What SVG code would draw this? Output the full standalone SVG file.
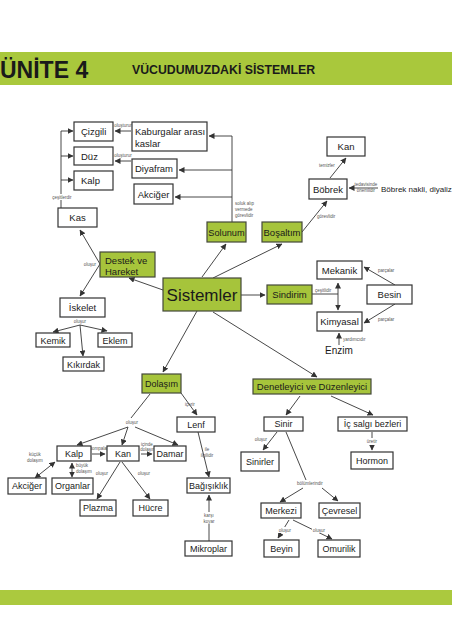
<svg xmlns="http://www.w3.org/2000/svg" width="452" height="640" viewBox="0 0 452 640">
<defs>
<marker id="ah" markerUnits="userSpaceOnUse" markerWidth="6" markerHeight="6" refX="5.5" refY="3" orient="auto-start-reverse"><path d="M0,0 L6,3 L0,6 z" fill="#333"/></marker>
<style>
.box{fill:#fff;stroke:#333;stroke-width:1.2}
.gbox{fill:#a6c43b;stroke:#44483a;stroke-width:1.2}
.t{font-family:"Liberation Sans",Arial,sans-serif;font-size:9.5px;fill:#1a1a1a}
.s9{font-size:9px}
.c{text-anchor:middle}
.lb{font-family:"Liberation Sans",Arial,sans-serif;font-size:4.5px;fill:#555}
.ln{stroke:#333;stroke-width:0.9;fill:none}
.ar{marker-end:url(#ah)}
.ar2{marker-start:url(#ah);marker-end:url(#ah)}
.bg{fill:#fff}
</style>
</defs>
<rect x="0" y="0" width="452" height="640" fill="#fff"/>
<g id="header">
<rect x="0" y="52" width="452" height="33" fill="#a9c83c"/>
<text x="0" y="78" style="font-family:'Liberation Sans',Arial,sans-serif;font-weight:bold;font-size:23px;fill:#1a1a1a">ÜNİTE 4</text>
<text x="132" y="74" style="font-family:'Liberation Sans',Arial,sans-serif;font-weight:bold;font-size:12.3px;fill:#1a1a1a">VÜCUDUMUZDAKİ SİSTEMLER</text>
</g>
<rect id="footer" x="0" y="590" width="452" height="15" fill="#abc93e"/>

<g id="connectors">
<path class="ln" d="M61,208 V131"/>
<path class="ln ar" d="M61,131 H73"/>
<path class="ln ar" d="M61,156 H73"/>
<path class="ln ar" d="M61,180 H73"/>
<path class="ln ar" d="M131,131 H115"/>
<path class="ln ar" d="M131,161 H115"/>
<path class="ln" d="M232,222 V136"/>
<path class="ln ar" d="M232,136 H209"/>
<path class="ln ar" d="M232,170 H179"/>
<path class="ln ar" d="M232,197 H175"/>
<path class="ln ar" d="M202,277 L226,244"/>
<path class="ln ar" d="M213,278 L282,244"/>
<path class="ln ar" d="M302,232 L327,201"/>
<path class="ln ar" d="M330,178 L346,158"/>
<path class="ln ar" d="M378,188 H349"/>
<path class="ln ar" d="M163,290 L129,278"/>
<path class="ln ar" d="M100,264 L80,230"/>
<path class="ln ar" d="M100,264 L80,296"/>
<path class="ln ar" d="M80,325 L53,332"/>
<path class="ln ar" d="M80,325 L107,331"/>
<path class="ln ar" d="M80,325 L83,356"/>
<path class="ln ar" d="M197,311 L163,372"/>
<path class="ln ar" d="M241,295 H265"/>
<path class="ln ar" d="M213,312 L317,377"/>
<path class="ln" d="M312,294 H338"/>
<path class="ln ar2" d="M338,283 V310"/>
<path class="ln ar" d="M395,285 L364,267"/>
<path class="ln ar" d="M395,304 L364,323"/>
<path class="ln ar" d="M339,345 V333"/>
<path class="ln ar" d="M181,393 L197,415"/>
<path class="ln" d="M150,394 L131,418"/>
<path class="ln ar" d="M128,427 L77,445"/>
<path class="ln ar" d="M128,427 L122,445"/>
<path class="ln ar" d="M135,427 L178,445"/>
<path class="ln ar" d="M92,454 H105"/>
<path class="ln ar" d="M141,454 H152"/>
<path class="ln ar2" d="M55,462 L35,478"/>
<path class="ln ar2" d="M72,463 V477"/>
<path class="ln ar" d="M120,462 L97,499"/>
<path class="ln ar" d="M122,462 L150,499"/>
<path class="ln ar" d="M198,432 L209,477"/>
<path class="ln ar" d="M209,541 V495"/>
<path class="ln ar" d="M300,396 L286,415"/>
<path class="ln ar" d="M331,396 L373,415"/>
<path class="ln ar" d="M277,432 L263,450"/>
<path class="ln ar" d="M372,432 V450"/>
<path class="ln" d="M286,432 L306,480"/>
<path class="ln ar" d="M303,488 L280,502"/>
<path class="ln ar" d="M322,488 L338,501"/>
<path class="ln ar" d="M289,520 L278,538"/>
<path class="ln ar" d="M293,520 L332,539"/>
</g>

<g id="labels">
<rect class="bg" x="51" y="194" width="23" height="6"/>
<text class="lb c" x="62" y="198.5">çeşitlerdir</text>
<text class="lb c" x="123" y="127">oluşturur</text>
<text class="lb c" x="123" y="157">oluşturur</text>
<text class="lb" x="235" y="205">soluk alıp</text>
<text class="lb" x="235" y="211">vermede</text>
<text class="lb" x="235" y="217">görevlidir</text>
<text class="lb" x="317" y="218">görevlidir</text>
<text class="lb c" x="327" y="167">temizler</text>
<text class="lb c" x="366" y="186">tedavisinde</text>
<text class="lb c" x="366" y="192">önemlidir</text>
<text class="lb c" x="90" y="265.5">oluşur</text>
<text class="lb c" x="80" y="323">oluşur</text>
<text class="lb" x="315" y="292">çeşitlidir</text>
<text class="lb" x="378" y="272">parçalar</text>
<text class="lb" x="378" y="321">parçalar</text>
<text class="lb" x="343" y="341">yardımcıdır</text>
<text class="lb" x="185" y="406">içerir</text>
<text class="lb c" x="132" y="424">oluşur</text>
<text class="lb c" x="99" y="450">pompalar</text>
<text class="lb c" x="147" y="446">içinde</text>
<text class="lb c" x="147" y="451">dolaşır</text>
<text class="lb c" x="35" y="456">küçük</text>
<text class="lb c" x="35" y="462">dolaşım</text>
<text class="lb" x="76" y="467">büyük</text>
<text class="lb" x="76" y="473">dolaşım</text>
<text class="lb c" x="102" y="475">oluşur</text>
<text class="lb c" x="144" y="475">oluşur</text>
<text class="lb c" x="207" y="451">ile</text>
<text class="lb c" x="207" y="457">ilgilidir</text>
<rect class="bg" x="202" y="512" width="14" height="12"/>
<text class="lb c" x="209" y="516.5">karşı</text>
<text class="lb c" x="209" y="522.5">koyar</text>
<text class="lb c" x="261" y="441">oluşur</text>
<rect class="bg" x="365" y="438" width="14" height="7"/>
<text class="lb c" x="372" y="443">üretir</text>
<rect class="bg" x="296" y="480" width="28" height="6"/>
<text class="lb c" x="310" y="484.5">bölümlerindir</text>
<rect class="bg" x="278" y="527" width="14" height="6"/>
<text class="lb c" x="285" y="531.5">oluşur</text>
<rect class="bg" x="312" y="527" width="14" height="6"/>
<text class="lb c" x="319" y="531.5">oluşur</text>
</g>

<g id="n-cizgili"><rect class="box" x="74" y="122" width="39" height="19"/><text class="t" x="81" y="135">Çizgili</text></g>
<g id="n-duz"><rect class="box" x="74" y="147" width="39" height="18"/><text class="t" x="81" y="159.5">Düz</text></g>
<g id="n-kalp1"><rect class="box" x="74" y="171" width="39" height="19"/><text class="t" x="81" y="184">Kalp</text></g>
<g id="n-kas"><rect class="box" x="58" y="208" width="39" height="19"/><text class="t c" x="77.5" y="221">Kas</text></g>
<g id="n-kaburgalar"><rect class="box" x="132" y="122" width="75" height="29"/><text class="t" x="135" y="134.5">Kaburgalar arası</text><text class="t" x="135" y="146.5">kaslar</text></g>
<g id="n-diyafram"><rect class="box" x="132" y="159" width="45" height="19"/><text class="t" x="135" y="172">Diyafram</text></g>
<g id="n-akciger1"><rect class="box" x="134" y="184" width="39" height="20"/><text class="t c" x="153.5" y="197.5">Akciğer</text></g>
<g id="n-solunum"><rect class="gbox" x="207" y="222" width="39" height="20"/><text class="t c" x="226.5" y="235.5" style="font-size:9.2px">Solunum</text></g>
<g id="n-bosaltim"><rect class="gbox" x="262" y="222" width="40" height="20"/><text class="t c" x="282" y="235.5">Boşaltım</text></g>
<g id="n-kan1"><rect class="box" x="327" y="137" width="38" height="19"/><text class="t c" x="346" y="150">Kan</text></g>
<g id="n-bobrek"><rect class="box" x="309" y="179" width="38" height="20"/><text class="t c" x="328" y="192.5">Böbrek</text></g>
<g id="n-nakil"><text class="t" x="381" y="192" style="font-size:8px">Böbrek nakli, diyaliz</text></g>
<g id="n-destek"><rect class="gbox" x="100" y="252" width="55" height="25"/><text class="t" x="105" y="263.5">Destek ve</text><text class="t" x="105" y="274.5">Hareket</text></g>
<g id="n-sistemler"><rect class="gbox" x="163" y="278" width="78" height="33"/><text class="t c" x="202" y="300.5" style="font-size:17px">Sistemler</text></g>
<g id="n-iskelet"><rect class="box" x="60" y="298" width="45" height="19"/><text class="t c" x="82.5" y="311">İskelet</text></g>
<g id="n-kemik"><rect class="box" x="36" y="333" width="34" height="14"/><text class="t s9 c" x="53" y="343.5">Kemik</text></g>
<g id="n-eklem"><rect class="box" x="98" y="333" width="34" height="14"/><text class="t s9 c" x="115" y="343.5">Eklem</text></g>
<g id="n-kikirdak"><rect class="box" x="63" y="357" width="41" height="14"/><text class="t s9 c" x="83.5" y="367.5">Kıkırdak</text></g>
<g id="n-sindirim"><rect class="gbox" x="267" y="285" width="45" height="19"/><text class="t c" x="289.5" y="298">Sindirim</text></g>
<g id="n-mekanik"><rect class="box" x="317" y="261" width="45" height="18"/><text class="t c" x="339.5" y="273.5">Mekanik</text></g>
<g id="n-kimyasal"><rect class="box" x="317" y="312" width="45" height="19"/><text class="t c" x="339.5" y="325">Kimyasal</text></g>
<g id="n-besin"><rect class="box" x="367" y="285" width="45" height="19"/><text class="t c" x="389.5" y="298">Besin</text></g>
<g id="n-enzim"><text class="t c" x="339" y="353.5" style="font-size:10px">Enzim</text></g>
<g id="n-dolasim"><rect class="gbox" x="142" y="374" width="39" height="19"/><text class="t s9 c" x="161.5" y="387">Dolaşım</text></g>
<g id="n-denetleyici"><rect class="gbox" x="253" y="379" width="118" height="15"/><text class="t c" x="312" y="389.7">Denetleyici ve Düzenleyici</text></g>
<g id="n-lenf"><rect class="box" x="177" y="417" width="38" height="15"/><text class="t s9 c" x="196" y="427.7">Lenf</text></g>
<g id="n-kalp2"><rect class="box" x="57" y="446" width="34" height="15"/><text class="t s9 c" x="74" y="456.7">Kalp</text></g>
<g id="n-kan2"><rect class="box" x="107" y="446" width="32" height="15"/><text class="t s9 c" x="123" y="456.7">Kan</text></g>
<g id="n-damar"><rect class="box" x="154" y="446" width="32" height="15"/><text class="t s9 c" x="170" y="456.7">Damar</text></g>
<g id="n-akciger2"><rect class="box" x="8" y="478" width="38" height="16"/><text class="t s9 c" x="27" y="489">Akciğer</text></g>
<g id="n-organlar"><rect class="box" x="52" y="478" width="41" height="16"/><text class="t s9 c" x="72.5" y="489">Organlar</text></g>
<g id="n-plazma"><rect class="box" x="80" y="500" width="36" height="16"/><text class="t s9 c" x="98" y="511">Plazma</text></g>
<g id="n-hucre"><rect class="box" x="133" y="500" width="35" height="16"/><text class="t s9 c" x="150.5" y="511">Hücre</text></g>
<g id="n-bagisiklik"><rect class="box" x="187" y="478" width="43" height="15"/><text class="t s9 c" x="208.5" y="488.7">Bağışıklık</text></g>
<g id="n-mikroplar"><rect class="box" x="185" y="541" width="47" height="15"/><text class="t s9 c" x="208.5" y="551.7">Mikroplar</text></g>
<g id="n-sinir"><rect class="box" x="264" y="417" width="39" height="14"/><text class="t s9 c" x="283.5" y="427.2">Sinir</text></g>
<g id="n-icsalgi"><rect class="box" x="338" y="417" width="69" height="14"/><text class="t s9 c" x="372.5" y="427.2">İç salgı bezleri</text></g>
<g id="n-sinirler"><rect class="box" x="241" y="452" width="38" height="19"/><text class="t s9 c" x="260" y="464.5">Sinirler</text></g>
<g id="n-hormon"><rect class="box" x="351" y="452" width="42" height="17"/><text class="t s9 c" x="372" y="463.7">Hormon</text></g>
<g id="n-merkezi"><rect class="box" x="261" y="503" width="40" height="15"/><text class="t s9 c" x="281" y="513.7">Merkezi</text></g>
<g id="n-cevresel"><rect class="box" x="319" y="503" width="41" height="15"/><text class="t s9 c" x="339.5" y="513.7">Çevresel</text></g>
<g id="n-beyin"><rect class="box" x="264" y="540" width="35" height="17"/><text class="t s9 c" x="281.5" y="551.7">Beyin</text></g>
<g id="n-omurilik"><rect class="box" x="318" y="540" width="42" height="17"/><text class="t s9 c" x="339" y="551.7">Omurilik</text></g>
</svg>
